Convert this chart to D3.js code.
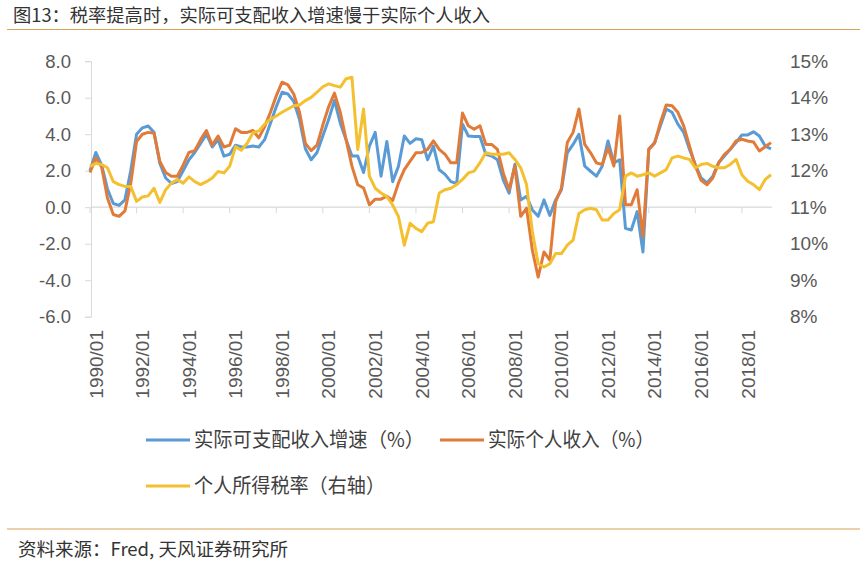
<!DOCTYPE html>
<html>
<head>
<meta charset="utf-8">
<script src="https://cdn.jsdelivr.net/npm/d3@7"></script>
<style>
  body { margin: 0; background: #fff; }
  text { font-family: "Liberation Sans", Arial, "Noto Sans CJK SC", sans-serif; }
  .cjk { font-family: "Noto Sans CJK SC", sans-serif; }
</style>
</head>
<body>
<div id="chart"></div>
<script>
// quarterly, 1990Q1 .. 2019Q2
var startYear = 1990;
var nQuarters = 118;

var disposable = [2.0, 3.0, 2.3, 1.0, 0.2, 0.1, 0.4, 2.0, 4.0, 4.35, 4.45, 4.1, 2.4, 1.6, 1.3, 1.4,
  2.0, 2.6, 3.0, 3.5, 4.0, 3.3, 3.7, 2.8, 2.9, 3.4, 3.3, 3.3, 3.35, 3.3, 3.7, 4.6,
  5.5, 6.3, 6.2, 5.8, 4.8, 3.2, 2.6, 3.0, 3.9, 4.8, 5.85, 4.6, 3.7, 2.8, 2.8, 1.9,
  3.35, 4.1, 1.7, 3.6, 1.4, 2.25, 3.9, 3.5, 3.75, 3.7, 2.6, 3.35, 2.05, 1.8, 1.4, 1.3,
  4.55, 3.9, 3.87, 3.87, 2.9, 2.8, 2.6, 1.5, 0.77, 2.35, 0.4, 0.6, -0.15, -0.5, 0.4, -0.45,
  0.4, 0.96, 2.98, 3.44, 4.0, 2.25, 1.97, 1.7, 2.25, 3.63, 2.43, 2.6, -1.16, -1.25, -0.24, -2.45,
  3.17, 3.54, 4.46, 5.38, 5.2, 4.55, 4.1, 3.17, 2.34, 1.6, 1.33, 1.7, 2.43, 2.8, 3.17, 3.54,
  3.96, 3.96, 4.13, 3.9, 3.35, 3.2];

var personal = [1.9, 2.7, 2.2, 0.5, -0.4, -0.5, -0.2, 1.3, 3.6, 4.0, 4.1, 4.05, 2.5, 1.9, 1.7, 1.7,
  2.3, 3.0, 3.1, 3.7, 4.2, 3.4, 3.9, 3.3, 3.4, 4.3, 4.1, 4.1, 4.2, 3.8, 4.4, 5.2,
  6.1, 6.85, 6.7, 6.2, 5.2, 3.5, 3.1, 3.4, 4.5, 5.5, 6.25, 5.2, 3.7, 2.25, 1.23, 1.05,
  0.13, 0.44, 0.44, 0.6, 0.37, 1.33, 2.06, 2.52, 2.98, 3.0, 3.17, 3.63, 3.17, 2.9, 2.43, 2.43,
  5.16, 4.46, 4.27, 4.46, 3.44, 3.44, 3.17, 1.88, 0.96, 2.25, -0.5, -0.05, -2.36, -3.83, -2.45, -2.9,
  0.3, 1.05, 3.54, 4.1, 5.38, 3.44, 2.98, 2.43, 2.34, 3.26, 2.25, 5.0, 0.13, 0.13, 0.96, -1.6,
  3.17, 3.5, 4.64, 5.6, 5.56, 5.2, 4.46, 3.35, 2.25, 1.47, 1.23, 1.6, 2.43, 2.9, 3.17, 3.63,
  3.72, 3.63, 3.57, 3.08, 3.31, 3.54];

var taxRate = [12.12, 12.2, 12.17, 12.08, 11.7, 11.62, 11.57, 11.57, 11.16, 11.28, 11.31, 11.52, 11.13, 11.48, 11.66, 11.76,
  11.66, 11.83, 11.7, 11.62, 11.7, 11.8, 11.98, 11.94, 12.12, 12.66, 12.56, 12.75, 13.04, 13.09, 13.27, 13.41,
  13.5, 13.6, 13.69, 13.78, 13.8, 13.92, 14.01, 14.15, 14.3, 14.38, 14.33, 14.29, 14.52, 14.56, 12.58, 13.69,
  11.85, 11.52, 11.39, 11.29, 11.06, 10.74, 9.96, 10.56, 10.42, 10.33, 10.56, 10.6, 11.39, 11.48, 11.52, 11.62,
  11.76, 11.94, 11.99, 12.22, 12.49, 12.45, 12.45, 12.45, 12.49, 12.31, 12.08, 11.62, 10.33, 9.45, 9.36, 9.45,
  9.73, 9.73, 9.96, 10.1, 10.83, 10.93, 10.97, 10.93, 10.65, 10.65, 10.83, 10.93, 11.85, 11.94, 11.85, 11.89,
  11.94, 11.85, 11.94, 12.03, 12.35, 12.4, 12.35, 12.31, 12.08, 12.17, 12.2, 12.12, 12.08, 12.08, 12.17, 12.31,
  11.89, 11.71, 11.62, 11.48, 11.76, 11.89];

var xTickLabels = ["1990/01", "1992/01", "1994/01", "1996/01", "1998/01", "2000/01", "2002/01", "2004/01",
  "2006/01", "2008/01", "2010/01", "2012/01", "2014/01", "2016/01", "2018/01"];
var leftTicks = [8, 6, 4, 2, 0, -2, -4, -6];
var rightTicks = [15, 14, 13, 12, 11, 10, 9, 8];

var seriesNames = ["实际可支配收入增速（%）", "实际个人收入（%）", "个人所得税率（右轴）"];
var colors = ["#5b9bd5", "#e07b39", "#f4c02f"];

var categories = [];
for (var i = 0; i < nQuarters; i++) {
  var yr = startYear + Math.floor(i / 4);
  var mo = (i % 4) * 3 + 1;
  categories.push(yr + "/" + (mo < 10 ? "0" + mo : mo));
}

var W = 866, H = 570;
var svg = d3.select("#chart").append("svg")
  .attr("width", W)
  .attr("height", H);

var x = d3.scalePoint().domain(categories).range([90, 771]);
var yL = d3.scaleLinear().domain([-6, 8]).range([316.7, 61.2]);
var yR = d3.scaleLinear().domain([8, 15]).range([316.7, 61.2]);

// title and rules
svg.append("text")
  .attr("class", "cjk")
  .attr("x", 13).attr("y", 22)
  .attr("font-size", 18)
  .attr("fill", "#333")
  .attr("textLength", 477)
  .attr("lengthAdjust", "spacingAndGlyphs")
  .text("图13：税率提高时，实际可支配收入增速慢于实际个人收入");

svg.append("line").attr("x1", 7).attr("x2", 860).attr("y1", 29.5).attr("y2", 29.5)
  .attr("stroke", "#d9a35a").attr("stroke-width", 1.2);
svg.append("line").attr("x1", 7).attr("x2", 860).attr("y1", 529).attr("y2", 529)
  .attr("stroke", "#d9a35a").attr("stroke-width", 1.2);

svg.append("text")
  .attr("class", "cjk")
  .attr("x", 18).attr("y", 556)
  .attr("font-size", 18)
  .attr("fill", "#333")
  .attr("textLength", 270)
  .attr("lengthAdjust", "spacingAndGlyphs")
  .text("资料来源：Fred, 天风证券研究所");

// left axis
var gL = svg.append("g").attr("transform", "translate(91,0)")
  .call(d3.axisLeft(yL).tickValues(leftTicks).tickSize(6).tickPadding(14)
    .tickFormat(function(d){ return d.toFixed(1); }));
gL.select(".domain").attr("stroke", "#d9d9d9");
gL.selectAll(".tick line").attr("stroke", "#d9d9d9");
gL.selectAll(".tick text").attr("font-size", 18.5).attr("fill", "#595959")
  .attr("font-family", "Liberation Sans, Arial, sans-serif");

// right axis
var gR = svg.append("g").attr("transform", "translate(790,0)")
  .call(d3.axisRight(yR).tickValues(rightTicks).tickSize(0).tickPadding(0)
    .tickFormat(function(d){ return d + "%"; }));
gR.select(".domain").remove();
gR.selectAll(".tick text").attr("font-size", 19).attr("fill", "#595959")
  .attr("font-family", "Liberation Sans, Arial, sans-serif");

// category axis at zero
var y0 = yL(0);
svg.append("line").attr("x1", 91).attr("x2", 772).attr("y1", y0).attr("y2", y0)
  .attr("stroke", "#d9d9d9").attr("stroke-width", 1.2);

svg.selectAll(".xtick")
  .data(xTickLabels)
  .enter()
  .append("line")
  .attr("class", "xtick")
  .attr("x1", function(d){ return x(d); })
  .attr("x2", function(d){ return x(d); })
  .attr("y1", y0).attr("y2", y0 + 6)
  .attr("stroke", "#d9d9d9");

svg.selectAll(".xlab")
  .data(xTickLabels)
  .enter()
  .append("text")
  .attr("class", "xlab")
  .attr("transform", function(d){ return "translate(" + (x(d) + 6) + ",330) rotate(-90)"; })
  .attr("text-anchor", "end")
  .attr("dy", "0.35em")
  .attr("font-size", 19)
  .attr("fill", "#595959")
  .text(function(d){ return d; });

// lines
var lineL = d3.line()
  .x(function(d, i){ return x(categories[i]); })
  .y(function(d){ return yL(d); });
var lineR = d3.line()
  .x(function(d, i){ return x(categories[i]); })
  .y(function(d){ return yR(d); });

svg.append("path").datum(disposable).attr("d", lineL)
  .attr("fill", "none").attr("stroke", colors[0]).attr("stroke-width", 3).attr("stroke-linejoin", "round");
svg.append("path").datum(personal).attr("d", lineL)
  .attr("fill", "none").attr("stroke", colors[1]).attr("stroke-width", 3).attr("stroke-linejoin", "round");
svg.append("path").datum(taxRate).attr("d", lineR)
  .attr("fill", "none").attr("stroke", colors[2]).attr("stroke-width", 3).attr("stroke-linejoin", "round");

// legend
var legendItems = [
  { name: seriesNames[0], color: colors[0], x: 146, y: 440, w: 230 },
  { name: seriesNames[1], color: colors[1], x: 440, y: 440, w: 166 },
  { name: seriesNames[2], color: colors[2], x: 146, y: 486, w: 191 }
];
var lg = svg.selectAll(".legend")
  .data(legendItems)
  .enter()
  .append("g")
  .attr("class", "legend")
  .attr("transform", function(d){ return "translate(" + d.x + "," + d.y + ")"; });
lg.append("line").attr("x1", 0).attr("x2", 44).attr("y1", 0).attr("y2", 0)
  .attr("stroke", function(d){ return d.color; }).attr("stroke-width", 3);
lg.append("text")
  .attr("class", "cjk")
  .attr("x", 48).attr("y", 0).attr("dy", "0.36em")
  .attr("font-size", 20)
  .attr("fill", "#404040")
  .attr("textLength", function(d){ return d.w; })
  .attr("lengthAdjust", "spacingAndGlyphs")
  .text(function(d){ return d.name; });
</script>
</body>
</html>
